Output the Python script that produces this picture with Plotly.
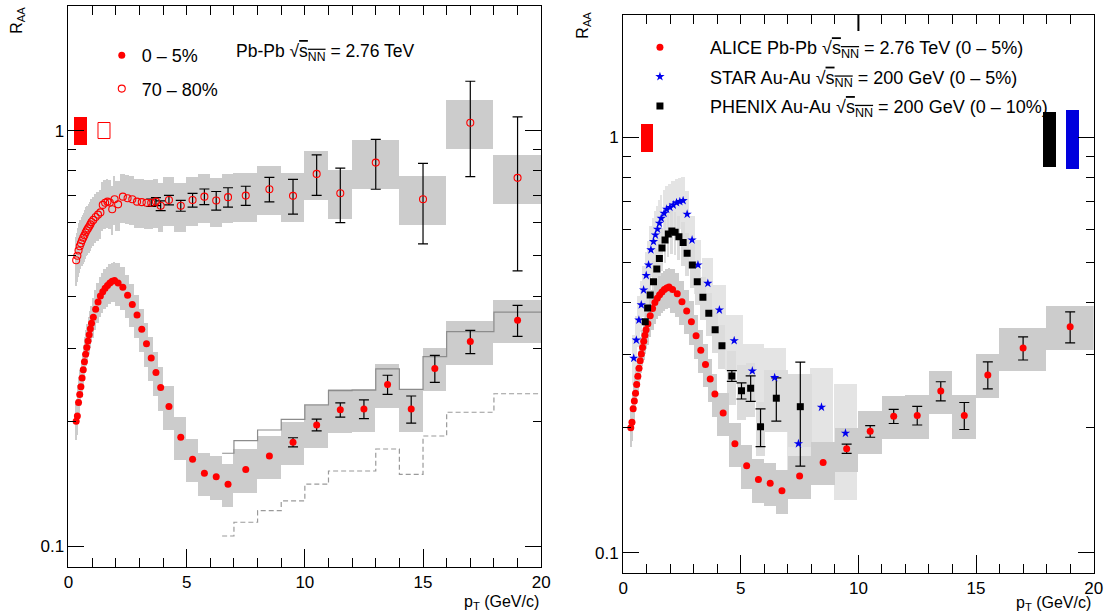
import math
import plotly.graph_objects as go

# ---------------- ALICE Pb-Pb sqrt(sNN)=2.76 TeV, 0-5% ----------------
pt_0_5 = [0.325, 0.375, 0.425, 0.475, 0.525, 0.575, 0.625, 0.675, 0.725, 0.775, 0.825, 0.875, 0.925, 0.975,
          1.05, 1.15, 1.25, 1.35, 1.45, 1.55, 1.65, 1.75, 1.85, 1.95,
          2.1, 2.3, 2.5, 2.7, 2.9, 3.1, 3.3, 3.5, 3.7, 3.9,
          4.25, 4.75, 5.25, 5.75, 6.25, 6.75,
          7.5, 8.5, 9.5, 10.5, 11.5, 12.5, 13.5, 14.5, 15.5, 17.0, 19.0]
binw_0_5 = [0.05] * 14 + [0.1] * 10 + [0.2] * 10 + [0.5] * 6 + [1.0] * 9 + [2.0] * 2
raa_0_5 = [0.200, 0.206, 0.222, 0.232, 0.242, 0.254, 0.266, 0.278, 0.290, 0.301, 0.312, 0.323, 0.334, 0.344,
           0.356, 0.372, 0.387, 0.400, 0.410, 0.418, 0.424, 0.430, 0.434, 0.436,
           0.430, 0.420, 0.402, 0.382, 0.360, 0.333, 0.307, 0.284, 0.262, 0.241,
           0.217, 0.183, 0.162, 0.150, 0.147, 0.141,
           0.153, 0.165, 0.178, 0.196, 0.213, 0.214, 0.245, 0.214, 0.268, 0.311, 0.350]
stat_0_5 = [0.001] * 34 + [0.0015, 0.0015, 0.0015, 0.0015, 0.002, 0.002,
                           0.002, 0.003, 0.0045, 0.0063, 0.0083, 0.011, 0.013, 0.016, 0.020, 0.020, 0.030]
sys_0_5 = [0.10] * 14 + [0.11] * 10 + [0.12] * 27          # relative systematic uncertainty

# ---------------- ALICE Pb-Pb sqrt(sNN)=2.76 TeV, 70-80% ----------------
pt_70_80 = pt_0_5[:40] + [7.5, 8.5, 9.5, 10.5, 11.5, 13.0, 15.0, 17.0, 19.0]
binw_70_80 = binw_0_5[:40] + [1.0] * 5 + [2.0] * 4
raa_70_80 = [0.488, 0.500, 0.515, 0.527, 0.536, 0.545, 0.553, 0.560, 0.569, 0.576, 0.582, 0.588, 0.595, 0.603,
             0.610, 0.620, 0.628, 0.636, 0.663, 0.671, 0.675, 0.672, 0.647, 0.684,
             0.665, 0.694, 0.688, 0.684, 0.675, 0.673, 0.671, 0.671, 0.675, 0.660,
             0.681, 0.660, 0.681, 0.694, 0.679, 0.692,
             0.698, 0.723, 0.697, 0.787, 0.707, 0.838, 0.684, 1.045, 0.770]
stat_70_80 = [0.002] * 14 + [0.003] * 10 + [0.005, 0.005, 0.006, 0.006, 0.007, 0.008, 0.010, 0.014, 0.015, 0.018,
                                            0.018, 0.020, 0.026, 0.030, 0.035, 0.037,
                                            0.037, 0.049, 0.067, 0.088, 0.106, 0.115, 0.150, 0.270, 0.310]
sys_70_80 = [0.135] * 49

# Reference curves for central collisions (upper: solid, lower: dashed)
ref_edges = [6.5, 7, 8, 9, 10, 11, 12, 13, 14, 15, 16, 18, 20]
ref_upper = [0.1675, 0.1796, 0.1905, 0.202, 0.2188, 0.2369, 0.2375, 0.2672, 0.2385, 0.286, 0.3285, 0.366]
ref_lower = [0.1059, 0.1143, 0.1219, 0.1286, 0.1411, 0.1518, 0.1518, 0.1715, 0.149, 0.1843, 0.2102, 0.2329]

# ---------------- STAR Au-Au 200 GeV, 0-5% ----------------
pt_star = [0.45, 0.56, 0.67, 0.77, 0.87, 0.98, 1.08, 1.18, 1.29, 1.37, 1.46, 1.54, 1.62, 1.74, 1.85, 1.99,
           2.13, 2.27, 2.41, 2.55, 2.72, 2.93, 3.18, 3.60, 4.09, 4.72, 5.49, 6.44, 7.45, 8.43, 9.45]
binw_star = [0.11] * 8 + [0.09] * 7 + [0.14] * 5 + [0.18, 0.22, 0.3, 0.45, 0.55, 0.75, 1.0, 1.0, 1.0, 1.0, 1.0]
raa_star = [0.294, 0.325, 0.363, 0.395, 0.429, 0.465, 0.493, 0.536, 0.561, 0.582, 0.601, 0.621, 0.638, 0.656,
            0.671, 0.678, 0.687, 0.696, 0.700, 0.704, 0.653, 0.566, 0.493, 0.445, 0.384, 0.324, 0.274, 0.264,
            0.183, 0.224, 0.194]
sys_star = [0.14] * 22 + [0.15, 0.15, 0.15, 0.15, 0.16, 0.18, 0.20, 0.24, 0.31]

# ---------------- PHENIX Au-Au 200 GeV, 0-10% ----------------
pt_phenix = [0.94, 1.04, 1.15, 1.29, 1.43, 1.54, 1.65, 1.78, 1.92, 2.07, 2.21, 2.37, 2.55, 2.72, 2.94, 3.15,
             3.39, 3.64, 3.91, 4.20, 4.62, 5.03, 5.42, 5.84, 6.51, 7.53]
binw_phenix = [0.11] * 12 + [0.18, 0.2, 0.22, 0.22, 0.25, 0.25, 0.27, 0.3, 0.4, 0.4, 0.4, 0.4, 1.0, 1.0]
raa_phenix = [0.360, 0.388, 0.417, 0.449, 0.482, 0.511, 0.541, 0.566, 0.585, 0.595, 0.591, 0.576, 0.558, 0.526,
              0.493, 0.449, 0.412, 0.377, 0.344, 0.315, 0.2665, 0.2455, 0.249, 0.201, 0.2355, 0.2247]
stat_phenix = [0.002] * 19 + [0.005, 0.008, 0.011, 0.0175, 0.021, 0.028, 0.063]
sys_phenix = [0.12] * 20 + [0.15, 0.15, 0.15, 0.15, 0.17, 0.20]

# Normalisation uncertainties (relative) drawn at R_AA = 1
norm_0_5 = 0.077
norm_70_80 = 0.043
norm_phenix = 0.15
norm_star = 0.16

# ---------------- styling ----------------
W, H = 1117, 612
FONT = "Liberation Sans, Arial, Helvetica, sans-serif"
RED = "#ff0000"
BOX_DARK = "#cccccc"
BOX_STAR = "#e4e4e4"
BOX_PHENIX = "#dcdcdc"

# plot-frame geometry in pixels (left, right, top, bottom)
LEFT_FRAME = (64.3, 543.0, 6.0, 566.8)
RIGHT_FRAME = (626.0, 1102.5, 15.0, 573.0)
YRANGE_LEFT = (0.0893, 1.995)
YRANGE_RIGHT = (0.0894, 1.969)


def px_dom_x(a, b):
    return [a / W, b / W]


def px_dom_y(top, bottom):
    return [1 - bottom / H, 1 - top / H]


def sys_boxes(x, y, rel, widths, color, xa, ya):
    lo = [v * (1 - r) for v, r in zip(y, rel)]
    hi = [v * (1 + r) for v, r in zip(y, rel)]
    return go.Bar(x=x, y=[h - l for h, l in zip(hi, lo)], base=lo, width=widths,
                  marker=dict(color=color, line=dict(width=0)), xaxis=xa, yaxis=ya,
                  showlegend=False, hoverinfo="skip")


def norm_box(xc, width, rel, fill, outline, xa, ya):
    return go.Bar(x=[xc], y=[2 * rel], base=[1 - rel], width=[width],
                  marker=dict(color=fill, line=dict(width=1 if outline else 0, color=outline or fill)),
                  xaxis=xa, yaxis=ya, showlegend=False, hoverinfo="skip")


def stat_bars(x, y, err, xa, ya, thr=0.02):
    idx = [i for i in range(len(x)) if err[i] / y[i] > thr]
    return go.Scatter(x=[x[i] for i in idx], y=[y[i] for i in idx], mode="markers",
                      marker=dict(size=2, opacity=0),
                      error_y=dict(type="data", array=[err[i] for i in idx], color="black",
                                   thickness=1.2, width=5),
                      xaxis=xa, yaxis=ya, showlegend=False, hoverinfo="skip")


fig = go.Figure()

# ===== left panel =====
fig.add_trace(sys_boxes(pt_70_80, raa_70_80, sys_70_80, binw_70_80, BOX_DARK, "x", "y"))
fig.add_trace(sys_boxes(pt_0_5, raa_0_5, sys_0_5, binw_0_5, BOX_DARK, "x", "y"))
fig.add_trace(norm_box(0.52, 0.55, norm_0_5, RED, None, "x", "y"))
fig.add_trace(norm_box(1.54, 0.50, norm_70_80, "white", RED, "x", "y"))

fig.add_trace(go.Scatter(x=ref_edges, y=ref_upper + ref_upper[-1:], mode="lines", line_shape="hv",
                         line=dict(color="#8c8c8c", width=1.2), xaxis="x", yaxis="y",
                         showlegend=False, hoverinfo="skip"))
fig.add_trace(go.Scatter(x=ref_edges, y=ref_lower + ref_lower[-1:], mode="lines", line_shape="hv",
                         line=dict(color="#9a9a9a", width=1.2, dash="5px,3px"), xaxis="x", yaxis="y",
                         showlegend=False, hoverinfo="skip"))

fig.add_trace(stat_bars(pt_70_80, raa_70_80, stat_70_80, "x", "y"))
fig.add_trace(stat_bars(pt_0_5, raa_0_5, stat_0_5, "x", "y"))

fig.add_trace(go.Scatter(x=pt_0_5, y=raa_0_5, mode="markers", name="0 \u2013 5%",
                         marker=dict(symbol="circle", size=7, color=RED, line=dict(width=0)),
                         xaxis="x", yaxis="y", legend="legend", legendgroup="a"))
fig.add_trace(go.Scatter(x=pt_70_80, y=raa_70_80, mode="markers", name="70 \u2013 80%",
                         marker=dict(symbol="circle-open", size=7, color=RED, line=dict(width=1.1)),
                         xaxis="x", yaxis="y", legend="legend", legendgroup="b"))

# ===== right panel =====
fig.add_trace(sys_boxes(pt_star, raa_star, sys_star, binw_star, BOX_STAR, "x2", "y2"))
fig.add_trace(sys_boxes(pt_phenix, raa_phenix, sys_phenix, binw_phenix, BOX_PHENIX, "x2", "y2"))
fig.add_trace(sys_boxes(pt_0_5, raa_0_5, sys_0_5, binw_0_5, BOX_DARK, "x2", "y2"))
fig.add_trace(norm_box(1.03, 0.52, norm_0_5, RED, None, "x2", "y2"))
fig.add_trace(norm_box(18.13, 0.56, norm_phenix, "black", None, "x2", "y2"))
fig.add_trace(norm_box(19.11, 0.58, norm_star, "#0000dd", None, "x2", "y2"))

fig.add_trace(stat_bars(pt_phenix, raa_phenix, stat_phenix, "x2", "y2"))
fig.add_trace(stat_bars(pt_0_5, raa_0_5, stat_0_5, "x2", "y2"))

SQRT_S = "\u221a<span style='text-decoration:overline'>s<sub>NN</sub></span>"
PAD = "\u00a0" * 6
fig.add_trace(go.Scatter(x=pt_0_5, y=raa_0_5, mode="markers",
                         name=PAD + "ALICE Pb-Pb " + SQRT_S + " = 2.76 TeV (0 \u2013 5%)",
                         marker=dict(symbol="circle", size=7, color=RED, line=dict(width=0)),
                         xaxis="x2", yaxis="y2", legend="legend2", legendgroup="c"))
fig.add_trace(go.Scatter(x=pt_star, y=raa_star, mode="markers",
                         name=PAD + "STAR Au-Au " + SQRT_S + " = 200 GeV (0 \u2013 5%)",
                         marker=dict(symbol="star", size=7, color="#0000ee", line=dict(width=0)),
                         xaxis="x2", yaxis="y2", legend="legend2", legendgroup="d"))
fig.add_trace(go.Scatter(x=pt_phenix, y=raa_phenix, mode="markers",
                         name=PAD + "PHENIX Au-Au " + SQRT_S + " = 200 GeV (0 \u2013 10%)",
                         marker=dict(symbol="square", size=7, color="black", line=dict(width=0)),
                         xaxis="x2", yaxis="y2", legend="legend2", legendgroup="e"))

# empty traces that carry the top tick axes
fig.add_trace(go.Scatter(x=[None], y=[None], xaxis="x3", yaxis="y", showlegend=False, hoverinfo="skip"))
fig.add_trace(go.Scatter(x=[None], y=[None], xaxis="x4", yaxis="y2", showlegend=False, hoverinfo="skip"))

# ---------------- axes ----------------
tickfont = dict(family=FONT, size=17, color="black")


def x_axis(frame, anchor):
    return dict(domain=px_dom_x(frame[0], frame[1]), anchor=anchor, range=[0, 20],
                tickmode="array", tickvals=[0, 5, 10, 15, 20], ticks="inside", ticklen=18,
                tickwidth=1, tickcolor="black", showline=True, linecolor="black", linewidth=1,
                mirror=False, showgrid=False, zeroline=False, tickfont=tickfont,
                minor=dict(tickmode="linear", tick0=0, dtick=1, ticks="inside", ticklen=9,
                           tickwidth=1, tickcolor="black", showgrid=False))


def x_top(over, anchor):
    return dict(overlaying=over, anchor=anchor, side="top", range=[0, 20], tickmode="linear",
                tick0=0, dtick=1, ticks="inside", ticklen=9, tickwidth=1, tickcolor="black",
                showticklabels=False, showline=True, linecolor="black", linewidth=1,
                showgrid=False, zeroline=False)


def y_axis(frame, anchor, yr):
    return dict(domain=px_dom_y(frame[2], frame[3]), anchor=anchor, type="log",
                range=[math.log10(yr[0]), math.log10(yr[1])],
                tickmode="array", tickvals=[0.1, 1], ticktext=["0.1", "1"], ticks="inside",
                ticklen=16, tickwidth=1, tickcolor="black", showline=True, linecolor="black",
                linewidth=1, mirror="ticks", showgrid=False, zeroline=False, tickfont=tickfont,
                minor=dict(tickmode="array", tickvals=[0.2, 0.3, 0.4, 0.5, 0.6, 0.7, 0.8, 0.9, 2],
                           ticks="inside", ticklen=8, tickwidth=1, tickcolor="black", showgrid=False))


LEG_FONT = dict(family=FONT, size=18, color="black")
fig.update_layout(
    width=W, height=H, margin=dict(l=0, r=0, t=0, b=0),
    paper_bgcolor="white", plot_bgcolor="white",
    barmode="overlay", bargap=0,
    font=dict(family=FONT, size=17, color="black"),
    xaxis=x_axis(LEFT_FRAME, "y"), yaxis=y_axis(LEFT_FRAME, "x", YRANGE_LEFT),
    xaxis2=x_axis(RIGHT_FRAME, "y2"), yaxis2=y_axis(RIGHT_FRAME, "x2", YRANGE_RIGHT),
    xaxis3=x_top("x", "y"), xaxis4=x_top("x2", "y2"),
    legend=dict(x=98 / W, y=1 - 37 / H, xanchor="left", yanchor="top", bgcolor="rgba(0,0,0,0)",
                font=LEG_FONT, tracegroupgap=7, itemclick=False),
    legend2=dict(x=643 / W, y=1 - 29 / H, xanchor="left", yanchor="top", bgcolor="rgba(0,0,0,0)",
                 font=LEG_FONT, tracegroupgap=3, itemclick=False),
    showlegend=True,
)

# unity reference lines
for xr, yr in (("x", "y"), ("x2", "y2")):
    fig.add_shape(type="line", xref=xr, yref=yr, x0=0, x1=20, y0=0, y1=0, layer="below",
                  line=dict(color="black", width=1, dash="3px,2px"))
# long tick on the top axis of the right panel
fig.add_shape(type="line", xref="x2", yref="y2 domain", x0=10, x1=10, y0=1, y1=1 - 16 / 558,
              line=dict(color="black", width=2))

# axis titles and labels
ann = dict(showarrow=False, xref="paper", yref="paper", font=dict(family=FONT, size=16, color="black"))
fig.add_annotation(text="R<sub>AA</sub>", x=13 / W, y=1 - 20 / H, textangle=-90,
                   xanchor="center", yanchor="middle", **ann)
fig.add_annotation(text="R<sub>AA</sub>", x=586 / W, y=1 - 25 / H, textangle=-90,
                   xanchor="center", yanchor="middle", **ann)
fig.add_annotation(text="p<sub>T</sub> (GeV/c)", x=543 / W, y=1 - 602 / H, xanchor="right",
                   yanchor="middle", **ann)
fig.add_annotation(text="p<sub>T</sub> (GeV/c)", x=1102 / W, y=1 - 603 / H, xanchor="right",
                   yanchor="middle", **ann)
ann_leg = dict(ann, font=dict(family=FONT, size=17.5, color="black"))
fig.add_annotation(text="Pb-Pb " + SQRT_S + " = 2.76 TeV", x=232 / W, y=1 - 52.7 / H,
                   xanchor="left", yanchor="middle", **ann_leg)

fig.write_html("out.html")
